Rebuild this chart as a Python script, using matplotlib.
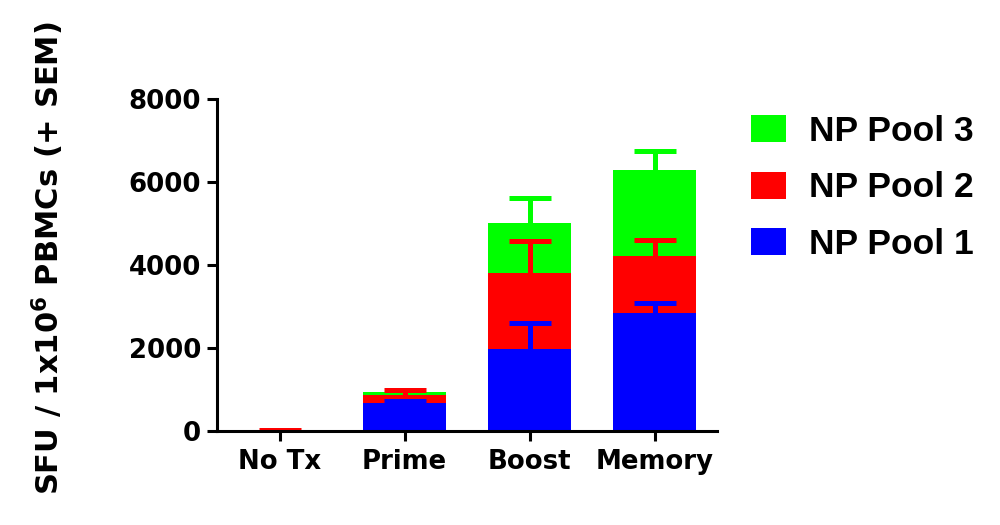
import matplotlib
matplotlib.use("Agg")
import matplotlib.pyplot as plt
import numpy as np

plt.rcParams['font.family'] = ['DejaVu Sans']
plt.rcParams['font.weight'] = 'bold'

categories = ["No Tx", "Prime", "Boost", "Memory"]
pool1 = [0, 675, 1976, 2836]
pool2 = [0, 192, 1824, 1381]
pool3 = [0, 73, 1206, 2072]
err1 = [0, 50, 626, 260]
err2 = [15, 110, 790, 385]
err3 = [0, 0, 602, 458]
series_names = ["NP Pool 1", "NP Pool 2", "NP Pool 3"]
colors = ["#0000ff", "#ff0000", "#00ff00"]
yticks = [0, 2000, 4000, 6000, 8000]

fig = plt.figure(figsize=(10, 5.25), dpi=100)
ax = fig.add_axes([0.217, 0.179, 0.500, 0.6324])

x = np.arange(len(categories))
width = 0.664
cap_half = 0.168
vals = [np.array(pool1, float), np.array(pool2, float), np.array(pool3, float)]
errs = [np.array(err1, float), np.array(err2, float), np.array(err3, float)]

bottom = np.zeros(len(categories))
handles = []
tops = []
for v, c, n in zip(vals, colors, series_names):
    h = ax.bar(x, v, width, bottom=bottom, color=c, edgecolor='none', label=n, zorder=1)
    handles.append(h)
    bottom = bottom + v
    tops.append(bottom.copy())

# upper-only SEM error bars (stem + cap)
for t, e, c in zip(tops, errs, colors):
    m = e > 0
    ax.vlines(x[m], t[m], t[m] + e[m], colors=c, linewidth=3.6, zorder=2)
    ax.hlines(t[m] + e[m], x[m] - cap_half, x[m] + cap_half, colors=c, linewidth=3.6, zorder=2)

ax.set_xlim(-0.5, 3.5)
ax.set_ylim(0, 8000)
ax.set_yticks(yticks)
ax.set_yticklabels([str(t) for t in yticks])
ax.set_xticks(x)
ax.set_xticklabels(categories)
for s in ['top', 'right']:
    ax.spines[s].set_visible(False)
for s in ['left', 'bottom']:
    ax.spines[s].set_linewidth(2.2)
ax.tick_params(axis='both', direction='out', length=7, width=2.2, labelsize=18.7)
ax.tick_params(axis='y', pad=4.5)
ax.tick_params(axis='x', pad=6)
for lbl in ax.get_xticklabels() + ax.get_yticklabels():
    lbl.set_fontweight('bold')

fig.text(0.048, 0.509, r"SFU / 1x10$^{\mathbf{6}}$ PBMCs (+ SEM)", rotation=90,
         ha='center', va='center', fontsize=22, fontweight='bold')

leg = fig.legend(handles[::-1], series_names[::-1], loc='upper left',
                 bbox_to_anchor=(0.751, 1 - 115 / 525), frameon=False,
                 handlelength=1.0, handleheight=0.8, handletextpad=0.63,
                 labelspacing=0.66, borderpad=0, borderaxespad=0,
                 prop={'family': 'Liberation Sans', 'weight': 'bold', 'size': 25.5})

fig.savefig("out.png", dpi=100)
